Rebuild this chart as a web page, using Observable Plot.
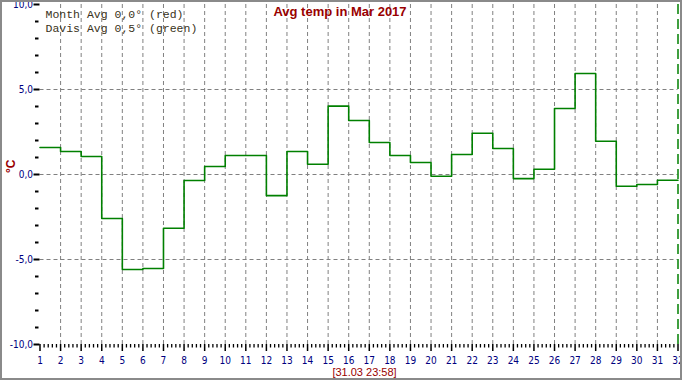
<!DOCTYPE html>
<html><head><meta charset="utf-8">
<script src="https://cdn.jsdelivr.net/npm/d3@7"></script>
<script src="https://cdn.jsdelivr.net/npm/@observablehq/plot@0.6"></script>
<style>
html,body{margin:0;padding:0;background:#fff;}
#wrap{position:relative;width:682px;height:380px;overflow:hidden;background:#fff}
#border{position:absolute;left:0;top:0;width:682px;height:380px;box-sizing:border-box;border:2px solid #8a8a8a;pointer-events:none}
svg{display:block}
</style></head><body><div id="wrap"><div id="border"></div></div>
<script>
// ---- data ----
const days = [1,2,3,4,5,6,7,8,9,10,11,12,13,14,15,16,17,18,19,20,21,22,23,24,25,26,27,28,29,30,31];
const avgTemp = [1.59,1.35,1.06,-2.59,-5.59,-5.53,-3.16,-0.35,0.47,1.12,
                 1.12,-1.24,1.35,0.60,4.02,3.18,1.88,1.12,0.71,-0.10,
                 1.18,2.43,1.53,-0.24,0.31,3.88,5.94,1.96,-0.69,-0.59,-0.34];
const xTicks = [1,2,3,4,5,6,7,8,9,10,11,12,13,14,15,16,17,18,19,20,21,22,23,24,25,26,27,28,29,30,31,32];
const xTickLabels = ["1","2","3","4","5","6","7","8","9","10","11","12","13","14","15","16","17","18","19","20","21","22","23","24","25","26","27","28","29","30","31","32"];
const yTicks = [10,5,0,-5,-10];
const yTickLabels = ["10,0","5,0","0,0","-5,0","-10,0"];
const yGrid = [5,0,-5];
const xGrid = [2,3,4,5,6,7,8,9,10,11,12,13,14,15,16,17,18,19,20,21,22,23,24,25,26,27,28,29,30,31];
const monthEnd = [32];
const title = "Avg temp in Mar 2017";
const legendLines = ["Month Avg 0,0° (red)", "Davis Avg 0,5° (green)"];
const caption = "[31.03 23:58]";
const yLabel = "°C";

// ---- derived ----
const rows = days.map((d, i) => ({day: d, t: avgTemp[i]}));
const stepRows = rows.concat([{day: days[days.length - 1] + 1, t: avgTemp[avgTemp.length - 1]}]);
const xMinor = d3.range(1, 32).flatMap(d => [0.2, 0.4, 0.6, 0.8].map(f => d + f));
const yMinor = d3.range(-10, 11).filter(v => v % 5 !== 0);
const tickFont = "'Liberation Sans Narrow','Arial Narrow','DejaVu Sans Condensed',sans-serif";
const navy = "#000080";
const darkRed = "#990000";

const chart = Plot.plot({
  width: 682,
  height: 380,
  marginLeft: 39.5,
  marginRight: 4.5,
  marginTop: 4,
  marginBottom: 36,
  style: {background: "white", overflow: "visible"},
  x: {domain: [1, 32]},
  y: {domain: [-10, 10]},
  marks: [
    Plot.ruleX(xGrid, {x: d => d, stroke: "#808080", strokeWidth: 1, strokeDasharray: "4,3"}),
    Plot.ruleY(yGrid, {y: d => d, stroke: "#808080", strokeWidth: 1, strokeDasharray: "4,3"}),
    Plot.ruleX(monthEnd, {x: d => d, stroke: "#008000", strokeWidth: 1.5, strokeDasharray: "10,5"}),
    // y ticks
    Plot.axisY(yTicks, {anchor: "left", tickSize: 6, stroke: "black", strokeWidth: 2, fill: "none", label: null, tickFormat: () => ""}),
    Plot.axisY(yMinor, {anchor: "left", tickSize: 3.5, dx: -1, stroke: "black", strokeWidth: 2, fill: "none", label: null, tickFormat: () => ""}),
    // x ticks
    Plot.axisX(xTicks, {anchor: "bottom", tickSize: 7, stroke: "black", strokeWidth: 1.5, fill: "none", label: null, tickFormat: () => ""}),
    Plot.axisX(xMinor, {anchor: "bottom", tickSize: 3.5, stroke: "black", strokeWidth: 1.3, fill: "none", label: null, tickFormat: () => ""}),
    // tick labels
    Plot.text(yTicks, {y: d => d, text: (d, i) => yTickLabels[i], frameAnchor: "left", textAnchor: "end", dx: -7, fill: navy, fontSize: 10, fontFamily: tickFont}),
    Plot.text(xTicks, {x: d => d, text: (d, i) => xTickLabels[i], frameAnchor: "bottom", lineAnchor: "bottom", dy: 19.5, fill: navy, fontSize: 10, fontFamily: tickFont}),
    // data
    Plot.line(stepRows, {x: "day", y: "t", curve: "step-after", stroke: "#008000", strokeWidth: 1.6}),
    // texts
    Plot.text([title], {text: d => d, frameAnchor: "top", lineAnchor: "bottom", dx: -19, dy: 11, fill: darkRed, fontWeight: "bold", fontSize: 13, fontFamily: "'Liberation Sans',Arial,sans-serif"}),
    Plot.text([legendLines.join("\n")], {text: d => d, frameAnchor: "top-left", lineAnchor: "top", textAnchor: "start", dx: 5.5, dy: 4.3, lineHeight: 1.17, fill: "#3a3220", fontSize: 11.5, fontFamily: "'Liberation Mono','Courier New',monospace"}),
    Plot.text([caption], {text: d => d, frameAnchor: "bottom", lineAnchor: "bottom", dx: 5.5, dy: 31.5, fill: darkRed, fontSize: 11, fontFamily: "'Liberation Sans',Arial,sans-serif"}),
    Plot.text([yLabel], {text: d => d, frameAnchor: "left", rotate: -90, dx: -28.5, dy: -1.5, fill: darkRed, fontSize: 12, fontWeight: "bold", fontFamily: "'Liberation Sans',Arial,sans-serif"})
  ]
});
document.getElementById("wrap").insertBefore(chart, document.getElementById("border"));
</script>
</body></html>
